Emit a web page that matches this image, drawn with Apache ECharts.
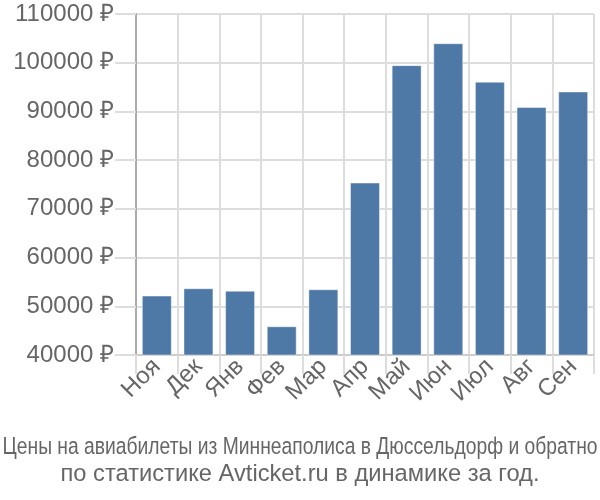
<!DOCTYPE html>
<html><head><meta charset="utf-8">
<script src="https://cdn.jsdelivr.net/npm/echarts@6/dist/echarts.min.js"></script>
<style>html,body{margin:0;padding:0;background:#fff}#c{width:600px;height:500px}</style>
</head><body><div id="c"></div>
<script>
var categories = ['Ноя','Дек','Янв','Фев','Мар','Апр','Май','Июн','Июл','Авг','Сен'];
var prices = [52200, 53700, 53200, 45900, 53500, 75400, 99500, 104000, 96100, 90900, 94100];
var yTicks = {min: 40000, max: 110000, step: 10000};
var titleLine1 = 'Цены на авиабилеты из Миннеаполиса в Дюссельдорф и обратно';
var titleLine2 = 'по статистике Avticket.ru в динамике за год.';

var FONT = 'Liberation Sans';
var titleFont = '23.7px "' + FONT + '"';
var cv = document.createElement('canvas').getContext('2d');
cv.font = titleFont;
var w1 = cv.measureText(titleLine1).width;
var s1 = Math.min(1, 595 / w1);

var chart = echarts.init(document.getElementById('c'), null, {renderer: 'canvas'});
chart.setOption({
  animation: false,
  backgroundColor: '#fff',
  graphic: [
    {type: 'text', x: 300, y: 447, scaleX: s1, style: {text: titleLine1, font: titleFont, fill: '#666', align: 'center', verticalAlign: 'middle'}},
    {type: 'text', x: 300, y: 474, style: {text: titleLine2, font: titleFont, fill: '#666', align: 'center', verticalAlign: 'middle'}}
  ],
  grid: {left: 136, right: 6, top: 14, bottom: 145, containLabel: false},
  xAxis: {
    type: 'category', data: categories,
    axisLine: {show: true, lineStyle: {color: '#ccc', width: 2}},
    axisTick: {show: true, alignWithLabel: false, length: 19, lineStyle: {color: '#ddd', width: 2}},
    splitLine: {show: true, lineStyle: {color: '#ddd', width: 2}},
    axisLabel: {rotate: 45, margin: 8, fontFamily: FONT, fontSize: 24, color: '#666', interval: 0}
  },
  yAxis: {
    type: 'value', min: yTicks.min, max: yTicks.max, interval: yTicks.step,
    axisLine: {show: true, lineStyle: {color: '#aaa', width: 2}},
    axisTick: {show: true, length: 21, lineStyle: {color: '#ddd', width: 2}},
    splitLine: {show: true, lineStyle: {color: '#ddd', width: 2}},
    axisLabel: {formatter: function (v) { return v + ' ₽'; }, margin: 22, fontFamily: FONT, fontSize: 24, color: '#666'}
  },
  series: [{
    type: 'bar', data: prices, barWidth: '72%',
    itemStyle: {color: '#4e78a6', borderColor: 'rgba(255,255,255,0.45)', borderWidth: 1}
  }]
});
</script></body></html>
